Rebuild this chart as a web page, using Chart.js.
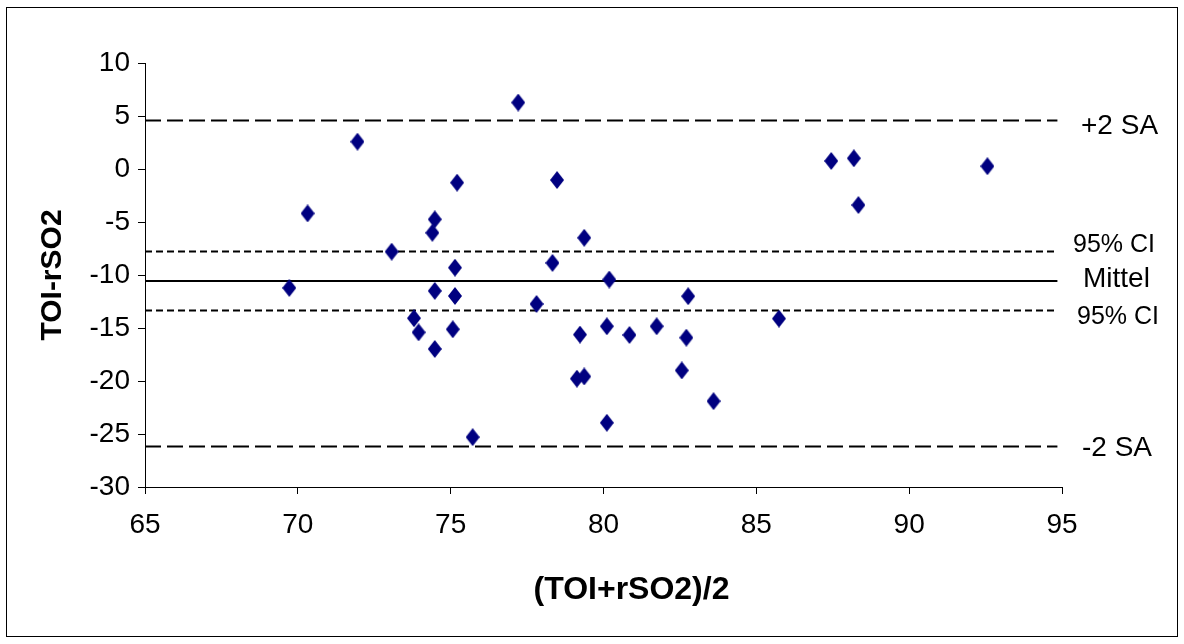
<!DOCTYPE html>
<html>
<head>
<meta charset="utf-8">
<script src="https://cdn.jsdelivr.net/npm/chart.js@4/dist/chart.umd.min.js"></script>
<style>
  html, body { margin: 0; padding: 0; background: #fff; }
  #wrap { width: 1184px; height: 644px; }
</style>
</head>
<body>
<div id="wrap"><canvas id="baChart" width="1184" height="644"></canvas></div>
<script>
// Mittelwert (TOI+rSO2)/2 und Differenz TOI-rSO2
const meanValues = [69.72, 70.32, 71.95, 73.07, 73.80, 73.95, 74.48, 74.40, 74.48, 74.48,
  75.07, 75.14, 75.14, 75.21, 75.72, 77.21, 77.81, 78.33, 78.48, 79.13,
  79.37, 79.23, 79.37, 80.11, 80.11, 80.19, 80.85, 81.74, 82.56, 82.71,
  82.77, 83.60, 85.74, 87.45, 88.19, 88.34, 92.56];
const diffValues = [-11.22, -4.19, 2.58, -7.80, -14.08, -15.41, -4.75, -6.02, -11.50, -16.98,
  -15.12, -11.98, -9.31, -1.29, -25.30, 6.27, -12.73, -8.86, -1.04, -19.78,
  -19.57, -15.62, -6.49, -23.94, -14.84, -10.43, -15.66, -14.84, -19.00, -15.91,
  -12.00, -21.90, -14.11, 0.76, 1.01, -3.40, 0.26];

// Grenzen: +2 SA, 95% CI, Mittel, 95% CI, -2 SA
const limitValues = [4.57, -7.78, -10.56, -13.36, -26.18];
const limitLabels = ['+2 SA', '95% CI', 'Mittel', '95% CI', '-2 SA'];
const limitStart = 65;
const limitEnd = 94.85;

const xTicks = [65, 70, 75, 80, 85, 90, 95];
const yTicks = [-30, -25, -20, -15, -10, -5, 0, 5, 10];
const xTitle = '(TOI+rSO2)/2';

// Rautensymbol (etwas höher als breit)
const diamond = document.createElement('canvas');
diamond.width = 14;
diamond.height = 18;
(function () {
  const c = diamond.getContext('2d');
  c.fillStyle = '#000080';
  c.beginPath();
  c.moveTo(7, 0);
  c.lineTo(14, 9);
  c.lineTo(7, 18);
  c.lineTo(0, 9);
  c.closePath();
  c.fill();
})();

const lineStyles = [
  { dash: [16, 6], width: 2 },
  { dash: [7, 4], width: 2 },
  { dash: [], width: 2 },
  { dash: [7, 4], width: 2 },
  { dash: [16, 6], width: 2 }
];
const labelPos = [
  { dx: 19, dy: 6, size: 28 },
  { dx: 11, dy: -6, size: 25 },
  { dx: 21, dy: -2, size: 28 },
  { dx: 15, dy: 6, size: 25 },
  { dx: 20, dy: 2, size: 28 }
];

const limitSets = limitValues.map((v, i) => ({
  type: 'line',
  data: [{ x: limitStart, y: v }, { x: limitEnd, y: v }],
  borderColor: '#000',
  borderWidth: lineStyles[i].width,
  borderDash: lineStyles[i].dash,
  pointRadius: 0,
  fill: false,
  order: 2
}));

const frameAndLabels = {
  id: 'frameAndLabels',
  beforeDraw(chart) {
    const ctx = chart.ctx;
    ctx.save();
    ctx.fillStyle = '#fff';
    ctx.fillRect(0, 0, chart.width, chart.height);
    ctx.strokeStyle = '#000';
    ctx.lineWidth = 1;
    ctx.strokeRect(6.5, 7.5, 1171, 629);
    ctx.restore();
  },
  afterDraw(chart) {
    const ctx = chart.ctx;
    const y = chart.scales.y;
    const area = chart.chartArea;
    ctx.save();
    ctx.fillStyle = '#000';
    ctx.textAlign = 'left';
    ctx.textBaseline = 'middle';
    limitLabels.forEach((t, i) => {
      const p = labelPos[i];
      ctx.font = p.size + 'px "Liberation Sans", Arial, sans-serif';
      ctx.fillText(t, area.right + p.dx, y.getPixelForValue(limitValues[i]) + p.dy);
    });
    // x-Achsentitel, leicht nach rechts versetzt wie im Original
    ctx.textAlign = 'center';
    ctx.font = 'bold 32px "Liberation Sans", Arial, sans-serif';
    ctx.fillText(xTitle, (area.left + area.right) / 2 + 28, 590);
    ctx.restore();
  }
};

new Chart(document.getElementById('baChart'), {
  type: 'scatter',
  data: {
    datasets: [{
      data: meanValues.map((m, i) => ({ x: m, y: diffValues[i] })),
      pointStyle: diamond,
      pointRadius: 9,
      backgroundColor: '#000080',
      borderColor: '#000080',
      order: 1
    }].concat(limitSets)
  },
  options: {
    responsive: false,
    animation: false,
    events: [],
    layout: { padding: { left: 20, right: 122, top: 63, bottom: 20 } },
    plugins: { legend: { display: false }, tooltip: { enabled: false } },
    scales: {
      x: {
        type: 'linear',
        min: 65,
        max: 95,
        afterBuildTicks: (s) => { s.ticks = xTicks.map(v => ({ value: v })); },
        afterFit: (s) => { s.height = 137; },
        grid: { drawOnChartArea: false, color: '#000', tickLength: 7 },
        border: { color: '#000', width: 1 },
        ticks: { color: '#000', padding: 14, font: { family: '"Liberation Sans", Arial', size: 28 } },
        title: { display: false }
      },
      y: {
        min: -30,
        max: 10,
        afterBuildTicks: (s) => { s.ticks = yTicks.map(v => ({ value: v })); },
        afterFit: (s) => { s.width = 125; },
        grid: { drawOnChartArea: false, color: '#000', tickLength: 7 },
        border: { color: '#000', width: 1 },
        ticks: { color: '#000', padding: 8, font: { family: '"Liberation Sans", Arial', size: 28 } },
        title: {
          display: true,
          text: 'TOI-rSO2',
          color: '#000',
          font: { family: '"Liberation Sans", Arial', size: 30, weight: 'bold' },
          padding: { top: 15, bottom: 0 }
        }
      }
    }
  },
  plugins: [frameAndLabels]
});
</script>
</body>
</html>
